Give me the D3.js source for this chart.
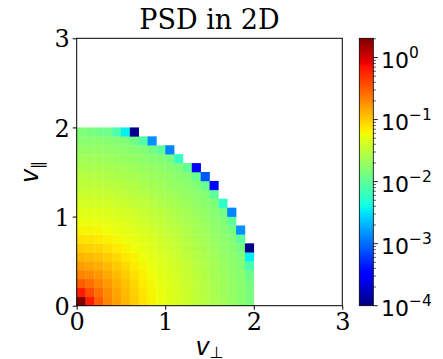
<!DOCTYPE html>
<html><head><meta charset="utf-8">
<script src="https://cdn.jsdelivr.net/npm/d3@7"></script>
<style>
html,body{margin:0;padding:0;background:#fff;}
svg{display:block;}
</style></head>
<body>
<svg id="chart" width="443" height="359"></svg>
<script>
// ---- data ----
const vBinEdges = [0.0,0.1,0.2,0.3,0.4,0.5,0.6,0.7,0.8,0.9,1.0,1.1,1.2,1.3,1.4,1.5,1.6,1.7,1.8,1.9,2.0];
// log10(PSD), one row per v_parallel bin (bottom to top), one entry per v_perp bin
const psdLog10 = [
 [0.31,-0.20,-0.50,-0.68,-0.80,-0.91,-1.01,-1.11,-1.19,-1.26,-1.32,-1.37,-1.43,-1.49,-1.54,-1.60,-1.65,-1.71,-1.77,-1.85],
 [-0.20,-0.42,-0.58,-0.71,-0.83,-0.93,-1.03,-1.12,-1.20,-1.27,-1.32,-1.38,-1.43,-1.49,-1.55,-1.60,-1.66,-1.71,-1.77,-1.85],
 [-0.50,-0.58,-0.68,-0.77,-0.87,-0.96,-1.06,-1.15,-1.21,-1.28,-1.33,-1.39,-1.44,-1.50,-1.55,-1.61,-1.66,-1.72,-1.77,-1.86],
 [-0.68,-0.71,-0.77,-0.85,-0.93,-1.01,-1.10,-1.18,-1.24,-1.30,-1.35,-1.40,-1.46,-1.51,-1.57,-1.62,-1.67,-1.73,-1.78,-1.92],
 [-0.80,-0.83,-0.87,-0.93,-1.00,-1.07,-1.15,-1.21,-1.27,-1.32,-1.37,-1.42,-1.47,-1.53,-1.58,-1.63,-1.69,-1.74,-1.80,-2.10],
 [-0.91,-0.93,-0.96,-1.01,-1.07,-1.14,-1.19,-1.25,-1.30,-1.34,-1.39,-1.44,-1.50,-1.55,-1.60,-1.65,-1.71,-1.76,-1.82,-2.45],
 [-1.01,-1.03,-1.06,-1.10,-1.15,-1.19,-1.24,-1.28,-1.33,-1.37,-1.42,-1.47,-1.52,-1.57,-1.62,-1.67,-1.73,-1.78,-1.88,-3.95],
 [-1.11,-1.12,-1.15,-1.18,-1.21,-1.25,-1.28,-1.32,-1.36,-1.41,-1.45,-1.50,-1.55,-1.60,-1.65,-1.70,-1.75,-1.80,-2.00],
 [-1.19,-1.20,-1.21,-1.24,-1.27,-1.30,-1.33,-1.36,-1.40,-1.44,-1.49,-1.53,-1.58,-1.62,-1.67,-1.72,-1.77,-1.87,-2.85],
 [-1.26,-1.27,-1.28,-1.30,-1.32,-1.34,-1.37,-1.41,-1.44,-1.48,-1.52,-1.57,-1.61,-1.65,-1.70,-1.75,-1.80,-2.00],
 [-1.32,-1.32,-1.33,-1.35,-1.37,-1.39,-1.42,-1.45,-1.49,-1.52,-1.56,-1.60,-1.64,-1.69,-1.73,-1.78,-1.88,-2.90],
 [-1.37,-1.38,-1.39,-1.40,-1.42,-1.44,-1.47,-1.50,-1.53,-1.57,-1.60,-1.64,-1.68,-1.72,-1.77,-1.81,-2.25],
 [-1.43,-1.43,-1.44,-1.46,-1.47,-1.50,-1.52,-1.55,-1.58,-1.61,-1.64,-1.68,-1.72,-1.76,-1.80,-2.00],
 [-1.49,-1.49,-1.50,-1.51,-1.53,-1.55,-1.57,-1.60,-1.62,-1.65,-1.69,-1.72,-1.76,-1.80,-1.95,-3.45],
 [-1.54,-1.55,-1.55,-1.57,-1.58,-1.60,-1.62,-1.65,-1.67,-1.70,-1.73,-1.77,-1.80,-1.95,-3.10],
 [-1.60,-1.60,-1.61,-1.62,-1.63,-1.65,-1.67,-1.70,-1.72,-1.75,-1.78,-1.81,-1.98,-3.45],
 [-1.65,-1.66,-1.66,-1.67,-1.69,-1.71,-1.73,-1.75,-1.78,-1.80,-1.87,-2.22],
 [-1.71,-1.71,-1.72,-1.73,-1.74,-1.76,-1.78,-1.80,-1.88,-2.00,-2.90],
 [-1.77,-1.77,-1.77,-1.78,-1.80,-1.82,-1.90,-2.05,-2.85],
 [-1.83,-1.85,-1.90,-1.92,-2.09,-2.45,-3.95]
];
const xTicks = [0,1,2,3];
const yTicks = [0,1,2,3];
const cbarTicks = [1e-4,1e-3,1e-2,1e-1,1e0];
const cbarExponents = ["\u22124","\u22123","\u22122","\u22121","0"];
const cbarMin = 1e-4;
const titleText = "PSD in 2D";

// ---- jet colormap (matplotlib segment data) ----
const jetR = d3.scaleLinear().domain([0,0.35,0.66,0.89,1]).range([0,0,1,1,0.5]).clamp(true);
const jetG = d3.scaleLinear().domain([0,0.125,0.375,0.64,0.91,1]).range([0,0,1,1,0,0]).clamp(true);
const jetB = d3.scaleLinear().domain([0,0.11,0.34,0.65,1]).range([0.5,1,1,0,0]).clamp(true);
const jet = t => d3.rgb(jetR(t)*255, jetG(t)*255, jetB(t)*255).formatHex();

// ---- cells ----
const cells = [];
psdLog10.forEach((row, j) => row.forEach((lv, i) => {
  cells.push({x0: vBinEdges[i], x1: vBinEdges[i+1], y0: vBinEdges[j], y1: vBinEdges[j+1], v: Math.pow(10, lv)});
}));
const cbarMax = d3.max(cells, d => d.v);

const svg = d3.select("#chart");
const L = 76.7, R = 342.3, T = 38.3, B = 305.7;
const x = d3.scaleLinear().domain([0,3]).range([L,R]);
const y = d3.scaleLinear().domain([0,3]).range([B,T]);
const cnorm = d3.scaleLog().domain([cbarMin, cbarMax]).range([0,1]).clamp(true);

svg.append("g").selectAll("rect").data(cells).join("rect")
  .attr("x", d => x(d.x0)).attr("y", d => y(d.y1))
  .attr("width", d => x(d.x1) - x(d.x0) + 0.3)
  .attr("height", d => y(d.y0) - y(d.y1) + 0.3)
  .attr("fill", d => jet(cnorm(d.v)));

// frame
svg.append("rect").attr("x", L).attr("y", T).attr("width", R-L).attr("height", B-T)
  .attr("fill","none").attr("stroke","#000").attr("stroke-width",1);

const serif = "'DejaVu Serif', serif";
const sans = "'DejaVu Sans', sans-serif";

// x axis
const xAxis = d3.axisBottom(x).tickValues(xTicks).tickFormat(d3.format("d")).tickSize(4).tickPadding(3);
const gx = svg.append("g").attr("transform", `translate(0,${B})`).call(xAxis);
gx.select(".domain").remove();
gx.selectAll("text").attr("font-family", serif).attr("font-size", 24).attr("fill","#000");
// y axis
const yAxis = d3.axisLeft(y).tickValues(yTicks).tickFormat(d3.format("d")).tickSize(4).tickPadding(3);
const gy = svg.append("g").attr("transform", `translate(${L},0)`).call(yAxis);
gy.select(".domain").remove();
gy.selectAll("text").attr("font-family", serif).attr("font-size", 24).attr("fill","#000").attr("dy","0.36em");

// title
svg.append("text").attr("x", (L+R)/2).attr("y", 29).attr("text-anchor","middle")
  .attr("font-family", serif).attr("font-size", 27).attr("fill","#000").text(titleText);

// axis labels
const xl = svg.append("text").attr("x", (L+R)/2).attr("y", 355).attr("text-anchor","middle")
  .attr("font-family", sans).attr("font-size", 24).attr("fill","#000");
xl.append("tspan").attr("font-style","italic").text("v");
xl.append("tspan").attr("font-size", 16).attr("dy", 3).text("\u22A5");

const yl = svg.append("text").attr("transform", `translate(38,${(T+B)/2}) rotate(-90)`).attr("text-anchor","middle")
  .attr("font-family", sans).attr("font-size", 24).attr("fill","#000");
yl.append("tspan").attr("font-style","italic").text("v");
yl.append("tspan").attr("font-size", 16).attr("dy", 5).text("\u2225");

// ---- colorbar ----
const cbL = 359.3, cbR = 373.3;
const cy = d3.scaleLog().domain([cbarMin, cbarMax]).range([B, T]);
const defs = svg.append("defs");
const grad = defs.append("linearGradient").attr("id","jetgrad").attr("x1",0).attr("y1",1).attr("x2",0).attr("y2",0);
grad.selectAll("stop").data(d3.range(0, 1.0001, 0.01)).join("stop")
  .attr("offset", d => d).attr("stop-color", d => jet(d));
svg.append("rect").attr("x", cbL).attr("y", T).attr("width", cbR-cbL).attr("height", B-T)
  .attr("fill","url(#jetgrad)").attr("stroke","#000").attr("stroke-width",0.8);

// minor ticks
const minor = [];
for (let e = -4; e <= 0; e++) for (let m = 2; m <= 9; m++) { const v = m*Math.pow(10,e); if (v <= cbarMax) minor.push(v); }
svg.append("g").selectAll("line").data(minor).join("line")
  .attr("x1", cbR).attr("x2", cbR+2.5).attr("y1", d => cy(d)).attr("y2", d => cy(d))
  .attr("stroke","#000").attr("stroke-width",0.7);
svg.append("g").selectAll("line").data(cbarTicks).join("line")
  .attr("x1", cbR).attr("x2", cbR+4.5).attr("y1", d => cy(d)).attr("y2", d => cy(d))
  .attr("stroke","#000").attr("stroke-width",0.9);
const cl = svg.append("g").selectAll("text").data(cbarTicks).join("text")
  .attr("x", 381).attr("y", d => cy(d) + 10)
  .attr("font-family", sans).attr("font-size", 22).attr("fill","#000");
cl.append("tspan").text("10");
cl.append("tspan").attr("font-size", 15.5).attr("dy", -10).text((d,i) => cbarExponents[i]);
</script>
</body></html>
